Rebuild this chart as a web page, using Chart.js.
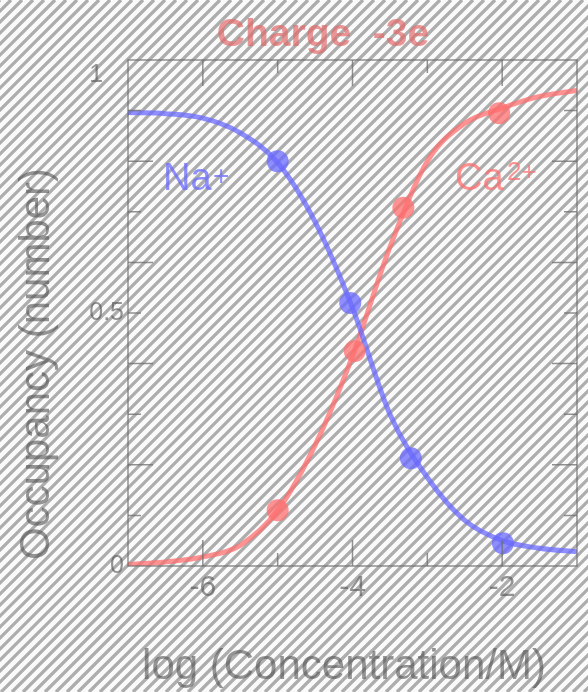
<!DOCTYPE html>
<html>
<head>
<meta charset="utf-8">
<script src="https://cdn.jsdelivr.net/npm/chart.js@4"></script>
<style>
  html, body { margin: 0; padding: 0; background: #fafafa; }
  #wrap { width: 588px; height: 692px; }
</style>
</head>
<body>
<div id="wrap"><canvas id="occupancyChart" width="588" height="692"></canvas></div>
<script>
// values
const curveX = [-7, -6.5, -6, -5.5, -5, -4.5, -4, -3.5, -3, -2.5, -2, -1.5, -1];
const naCurve = [0.896, 0.894, 0.885, 0.856, 0.797, 0.68, 0.51, 0.30, 0.175, 0.09, 0.05, 0.035, 0.028];
const caCurve = [0.003, 0.008, 0.018, 0.041, 0.11, 0.239, 0.415, 0.63, 0.80, 0.875, 0.905, 0.928, 0.94];

const naPointX = [-5.0, -4.03, -3.22, -1.99];
const naPointY = [0.80, 0.52, 0.213, 0.045];
const caPointX = [-5.0, -3.97, -3.32, -2.04];
const caPointY = [0.11, 0.425, 0.708, 0.895];

const xTickLabels = [-6, -4, -2];
const yTickLabels = [0, 0.5, 1];

const FONT = "'Liberation Sans', Arial, sans-serif";
const blue = 'rgba(105, 105, 255, 0.75)';
const red = 'rgba(255, 110, 110, 0.75)';
const textGray = 'rgba(80, 80, 80, 0.6)';
const frameGray = 'rgba(110, 110, 110, 0.75)';

const toPoints = (xs, ys) => xs.map((x, i) => ({ x: x, y: ys[i] }));

// striped backdrop over the whole canvas
const stripes = {
  id: 'stripes',
  beforeDraw(chart) {
    const c = chart.ctx, w = chart.width, h = chart.height;
    c.save();
    c.fillStyle = '#fafafa';
    c.fillRect(0, 0, w, h);
    c.strokeStyle = '#adadad';
    c.lineWidth = 3.3;
    c.beginPath();
    for (let k = -h; k < w + h; k += 11) {
      c.moveTo(k, h);
      c.lineTo(k + h, 0);
    }
    c.stroke();
    c.restore();
  }
};

// box, inward ticks and the free text
const decorations = {
  id: 'decorations',
  afterDatasetsDraw(chart) {
    const c = chart.ctx, a = chart.chartArea;
    const xs = chart.scales.x, ys = chart.scales.y;
    c.save();
    c.strokeStyle = frameGray;
    c.lineWidth = 1.5;
    c.strokeRect(a.left, a.top, a.right - a.left, a.bottom - a.top);

    c.beginPath();
    xs.ticks.forEach(t => {
      if (t.value <= xs.min || t.value >= xs.max) return;
      const px = xs.getPixelForValue(t.value);
      const len = Math.round(t.value) % 2 === 0 ? 26 : 13;
      c.moveTo(px, a.bottom); c.lineTo(px, a.bottom - len);
      c.moveTo(px, a.top); c.lineTo(px, a.top + len);
    });
    ys.ticks.forEach(t => {
      if (t.value <= ys.min || t.value >= ys.max) return;
      const py = ys.getPixelForValue(t.value);
      const len = Math.round(t.value * 10) % 2 === 0 ? 25 : 13;
      c.moveTo(a.left, py); c.lineTo(a.left + len, py);
      c.moveTo(a.right, py); c.lineTo(a.right - len, py);
    });
    c.stroke();

    // title
    c.fillStyle = 'rgba(225, 105, 105, 0.7)';
    c.font = 'bold 39px ' + FONT;
    c.textAlign = 'center';
    c.textBaseline = 'alphabetic';
    c.fillText('Charge  -3e', 323, 46);

    // axis titles
    c.fillStyle = textGray;
    c.font = '42px ' + FONT;
    c.fillText('log (Concentration/M)', 344, 679);
    c.save();
    c.translate(49, 364);
    c.rotate(-Math.PI / 2);
    c.fillText('Occupancy (number)', 0, 0);
    c.restore();

    // species labels
    c.textAlign = 'left';
    c.fillStyle = blue;
    c.font = '38px ' + FONT;
    c.fillText('Na', 163, 190);
    c.font = '28px ' + FONT;
    c.fillText('+', 213, 185);

    c.fillStyle = red;
    c.font = '38px ' + FONT;
    c.fillText('Ca', 455, 190);
    c.font = '26px ' + FONT;
    c.fillText('2+', 507, 180);
    c.restore();
  }
};

const ctx = document.getElementById('occupancyChart').getContext('2d');

new Chart(ctx, {
  type: 'scatter',
  data: {
    datasets: [
      {
        label: 'Na+ points',
        data: toPoints(naPointX, naPointY),
        backgroundColor: blue,
        borderWidth: 0,
        pointRadius: 11,
        order: 1
      },
      {
        label: 'Ca2+ points',
        data: toPoints(caPointX, caPointY),
        backgroundColor: red,
        borderWidth: 0,
        pointRadius: 11,
        order: 1
      },
      {
        label: 'Na+',
        type: 'line',
        data: toPoints(curveX, naCurve),
        borderColor: blue,
        borderWidth: 5,
        pointRadius: 0,
        fill: false,
        cubicInterpolationMode: 'monotone',
        order: 2
      },
      {
        label: 'Ca2+',
        type: 'line',
        data: toPoints(curveX, caCurve),
        borderColor: red,
        borderWidth: 5,
        pointRadius: 0,
        fill: false,
        cubicInterpolationMode: 'monotone',
        order: 2
      }
    ]
  },
  options: {
    responsive: false,
    animation: false,
    layout: { padding: { top: 60, right: 10, left: 0, bottom: 0 } },
    plugins: {
      legend: { display: false },
      tooltip: { enabled: false },
      title: { display: false }
    },
    scales: {
      x: {
        type: 'linear',
        min: -7,
        max: -1,
        grid: { display: false },
        border: { display: false },
        ticks: {
          stepSize: 1,
          autoSkip: false,
          maxRotation: 0,
          padding: -4,
          color: textGray,
          font: { family: FONT, size: 30 },
          callback: v => xTickLabels.includes(Math.round(v)) ? String(Math.round(v)) : ''
        },
        afterFit: s => { s.height = 126; }
      },
      y: {
        type: 'linear',
        min: 0,
        max: 1,
        grid: { display: false },
        border: { display: false },
        ticks: {
          stepSize: 0.1,
          autoSkip: false,
          padding: -4,
          color: textGray,
          font: { family: FONT, size: 25 },
          callback: v => {
            const r = Math.round(v * 10) / 10;
            if (!yTickLabels.includes(r)) return '';
            return r === 1 ? ['', '1   '] : String(r);
          }
        },
        afterFit: s => { s.width = 128; }
      }
    }
  },
  plugins: [stripes, decorations]
});
</script>
</body>
</html>
